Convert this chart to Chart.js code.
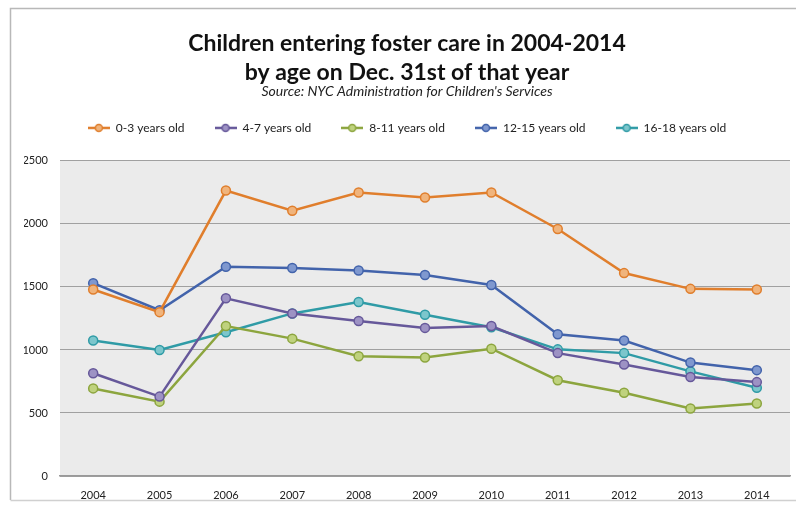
<!DOCTYPE html>
<html>
<head>
<meta charset="utf-8">
<script src="https://cdn.jsdelivr.net/npm/chart.js@4.4.1/dist/chart.umd.min.js"></script>
<style>
  html, body { margin: 0; padding: 0; background: #fff; }
  #wrap { width: 796px; height: 506px; }
</style>
</head>
<body>
<div id="wrap"><canvas id="fosterChart" width="796" height="506"></canvas></div>
<script>
const years = ['2004', '2005', '2006', '2007', '2008', '2009', '2010', '2011', '2012', '2013', '2014'];
const age0to3 = [1480, 1300, 2265, 2105, 2250, 2210, 2250, 1960, 1610, 1485, 1480];
const age4to7 = [815, 630, 1410, 1290, 1230, 1175, 1190, 975, 885, 785, 745];
const age8to11 = [695, 590, 1190, 1090, 950, 940, 1010, 760, 660, 535, 575];
const age12to15 = [1530, 1315, 1660, 1650, 1630, 1595, 1515, 1125, 1075, 900, 840];
const age16to18 = [1075, 1000, 1140, 1290, 1380, 1280, 1180, 1005, 975, 830, 700];
const yTicks = [0, 500, 1000, 1500, 2000, 2500];

const seriesNames = ['0-3 years old', '4-7 years old', '8-11 years old', '12-15 years old', '16-18 years old'];
const seriesData = [age0to3, age4to7, age8to11, age12to15, age16to18];
const lineColors = ['#e07e2c', '#66589a', '#8ca53e', '#4263ab', '#2f9ba6'];
const fillColors = ['#f0b47c', '#9d92c4', '#bfd27e', '#7f98cf', '#7cc6cc'];

const fontFamily = 'Lato, "Open Sans", sans-serif';

// legend icon: short line with a ring marker, like the spreadsheet legend
function legendIcon(stroke, fill) {
    const c = document.createElement('canvas');
    c.width = 22; c.height = 10;
    const g = c.getContext('2d');
    g.strokeStyle = stroke;
    g.lineWidth = 2.5;
    g.beginPath(); g.moveTo(0, 5); g.lineTo(22, 5); g.stroke();
    g.fillStyle = fill;
    g.lineWidth = 1.5;
    g.beginPath(); g.arc(11, 5, 3.5, 0, Math.PI * 2); g.fill(); g.stroke();
    return c;
}

const plotBackground = {
    id: 'plotBackground',
    beforeDraw(chart) {
        const { ctx, chartArea } = chart;
        ctx.save();
        // outer frame
        ctx.strokeStyle = '#b8b8b8';
        ctx.lineWidth = 1.5;
        ctx.beginPath();
        ctx.moveTo(10.5, 500);
        ctx.lineTo(10.5, 8.5);
        ctx.lineTo(796, 8.5);
        ctx.stroke();
        ctx.strokeStyle = '#d0d0d0';
        ctx.beginPath();
        ctx.moveTo(10.5, 500.5);
        ctx.lineTo(796, 500.5);
        ctx.stroke();
        // plot area fill
        ctx.fillStyle = '#ebebeb';
        ctx.fillRect(chartArea.left, chartArea.top, chartArea.right - chartArea.left, chartArea.bottom - chartArea.top);
        ctx.restore();
    }
};

// extra room below the legend
const legendGap = {
    id: 'legendGap',
    beforeInit(chart) {
        const fit = chart.legend.fit;
        chart.legend.fit = function() {
            fit.bind(chart.legend)();
            this.height += 17;
        };
    }
};

const datasets = seriesNames.map((name, i) => ({
    label: name,
    data: seriesData[i],
    borderColor: lineColors[i],
    backgroundColor: fillColors[i],
    pointBackgroundColor: fillColors[i],
    pointBorderColor: lineColors[i],
    pointBorderWidth: 1.5,
    pointRadius: 4.5,
    borderWidth: 2.5,
    tension: 0,
    fill: false
}));

new Chart(document.getElementById('fosterChart').getContext('2d'), {
    type: 'line',
    data: { labels: years, datasets: datasets },
    options: {
        responsive: false,
        animation: false,
        layout: { padding: { top: 20, left: 24, right: 6, bottom: 4 } },
        plugins: {
            title: {
                display: true,
                text: ['Children entering foster care in 2004-2014', 'by age on Dec. 31st of that year'],
                color: '#111',
                font: { family: fontFamily, size: 23, weight: 'bold', lineHeight: 1.22 },
                padding: { top: 10, bottom: 0 }
            },
            subtitle: {
                display: true,
                text: "Source: NYC Administration for Children's Services",
                color: '#222',
                font: { family: fontFamily, size: 14, style: 'italic', lineHeight: 1.2 },
                padding: { top: -3, bottom: -8 }
            },
            legend: {
                position: 'top',
                labels: {
                    color: '#222',
                    font: { family: fontFamily, size: 12 },
                    boxWidth: 22,
                    pointStyleWidth: 22,
                    padding: 30,
                    usePointStyle: true,
                    generateLabels(chart) {
                        return chart.data.datasets.map((ds, i) => ({
                            text: ds.label,
                            fillStyle: fillColors[i],
                            strokeStyle: lineColors[i],
                            pointStyle: legendIcon(lineColors[i], fillColors[i]),
                            datasetIndex: i,
                            hidden: false,
                            fontColor: '#222'
                        }));
                    }
                }
            },
            tooltip: { enabled: false }
        },
        scales: {
            x: {
                offset: true,
                grid: { display: false, drawTicks: false },
                border: { display: true, color: '#999', width: 1.5 },
                ticks: { color: '#222', font: { family: fontFamily, size: 11 }, padding: 13 },
                afterFit(scale) { scale.height = 26; }
            },
            y: {
                min: 0,
                max: 2500,
                afterBuildTicks(scale) { scale.ticks = yTicks.map(v => ({ value: v })); },
                grid: { color: '#a0a0a0', lineWidth: 1, drawTicks: false },
                border: { display: false },
                ticks: {
                    color: '#222',
                    font: { family: fontFamily, size: 11 },
                    padding: 12,
                    callback: v => String(v)
                },
                afterFit(scale) { scale.width = 36; }
            }
        }
    },
    plugins: [plotBackground, legendGap]
});
</script>
</body>
</html>
